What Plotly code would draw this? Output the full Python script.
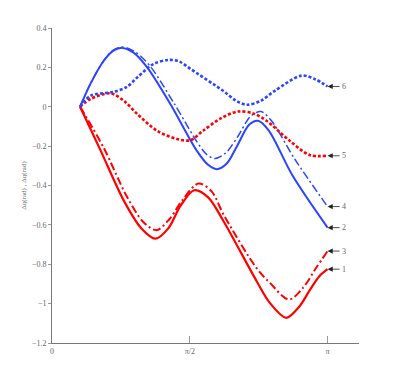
import math
import plotly.graph_objects as go

# values (x in rad)
x1 = [0.32, 0.556, 0.820, 1.020, 1.179, 1.330, 1.463, 1.621, 1.780, 1.954, 2.332, 2.483, 2.672, 2.823, 2.937, 3.050, math.pi]
y1 = [0.0, -0.224, -0.478, -0.618, -0.670, -0.615, -0.505, -0.424, -0.460, -0.580, -0.885, -0.996, -1.072, -1.013, -0.933, -0.860, -0.825]

x3 = [0.32, 0.590, 0.850, 1.040, 1.190, 1.340, 1.485, 1.670, 1.820, 1.954, 2.332, 2.483, 2.702, 2.861, 3.012, math.pi]
y3 = [0.0, -0.209, -0.453, -0.585, -0.627, -0.570, -0.475, -0.390, -0.430, -0.546, -0.820, -0.894, -0.979, -0.920, -0.818, -0.733]

x2 = [0.32, 0.442, 0.593, 0.700, 0.80, 0.930, 1.085, 1.349, 1.652, 1.780, 1.879, 1.990, 2.109, 2.250, 2.35, 2.470, 2.744, math.pi]
y2 = [0.0, 0.120, 0.235, 0.285, 0.299, 0.275, 0.200, 0.014, -0.224, -0.295, -0.317, -0.290, -0.200, -0.090, -0.071, -0.120, -0.351, -0.614]

x4 = [0.32, 0.442, 0.590, 0.700, 0.816, 0.960, 1.122, 1.395, 1.667, 1.770, 1.859, 1.980, 2.120, 2.260, 2.381, 2.500, 2.766, math.pi]
y4 = [0.0, 0.120, 0.235, 0.288, 0.303, 0.275, 0.204, 0.015, -0.188, -0.245, -0.263, -0.235, -0.150, -0.050, -0.024, -0.070, -0.265, -0.507]

x5 = [0.32, 0.442, 0.669, 0.820, 0.972, 1.199, 1.425, 1.576, 1.723, 1.920, 2.120, 2.300, 2.446, 2.710, 2.937, math.pi]
y5 = [0.0, 0.040, 0.068, 0.030, -0.037, -0.122, -0.164, -0.170, -0.122, -0.060, -0.024, -0.035, -0.071, -0.173, -0.245, -0.249]

x6 = [0.32, 0.442, 0.703, 0.850, 0.972, 1.156, 1.327, 1.450, 1.576, 1.950, 2.100, 2.222, 2.380, 2.540, 2.846, 3.000, math.pi]
y6 = [0.0, 0.056, 0.076, 0.100, 0.149, 0.217, 0.238, 0.230, 0.193, 0.081, 0.030, 0.010, 0.030, 0.081, 0.158, 0.140, 0.103]

labels = ["1", "2", "3", "4", "5", "6"]
xticks = [0, math.pi / 2, math.pi]
xticklabels = ["0", "\u03c0/2", "\u03c0"]
yticks = [0.4, 0.2, 0, -0.2, -0.4, -0.6, -0.8, -1, -1.2]

RED = "#ff0000"
BLUE = "#2a44ff"

series = [
    (x1, y1, RED, "solid", 2.2),
    (x2, y2, BLUE, "solid", 2.0),
    (x3, y3, RED, "8px,3px,2px,3px", 2.0),
    (x4, y4, BLUE, "8px,3px,2px,3px", 1.5),
    (x5, y5, RED, "3px,2px", 2.6),
    (x6, y6, BLUE, "3px,2px", 2.6),
]

fig = go.Figure()
for xs, ys, col, dash, w in series:
    fig.add_trace(go.Scatter(x=xs, y=ys, mode="lines",
                             line=dict(color=col, dash=dash, width=w, shape="spline", smoothing=0.9),
                             showlegend=False, hoverinfo="skip"))

for (xs, ys, *_), lab in zip(series, labels):
    fig.add_annotation(x=xs[-1], y=ys[-1], ax=12, ay=0, text=lab, xanchor="left",
                       showarrow=True, arrowhead=2, arrowsize=1.3, arrowwidth=0.8,
                       arrowcolor="#222", font=dict(size=8, color="#666", family="Liberation Serif"))

# page body adds ~8px offset, so margins are shifted to land the axes where the reference has them
fig.update_layout(
    width=397, height=384,
    margin=dict(l=44, r=46, t=20, b=49),
    plot_bgcolor="white", paper_bgcolor="white",
    font=dict(family="Liberation Serif", size=8, color="#666"),
)
fig.update_xaxes(range=[0, 3.5], tickvals=xticks, ticktext=xticklabels, automargin=False,
                 showgrid=False, zeroline=False, showline=True, linecolor="#777", linewidth=1,
                 ticks="inside", ticklen=7, tickcolor="#999")
fig.update_yaxes(range=[-1.2, 0.4], tickvals=yticks, automargin=False,
                 showgrid=False, zeroline=False, showline=True, linecolor="#777", linewidth=1,
                 ticks="outside", ticklen=3, tickcolor="#999",
                 title=dict(text="\u0394q(rad) , \u0394q(rad)", font=dict(size=7), standoff=4))

fig.write_html("out.html")
